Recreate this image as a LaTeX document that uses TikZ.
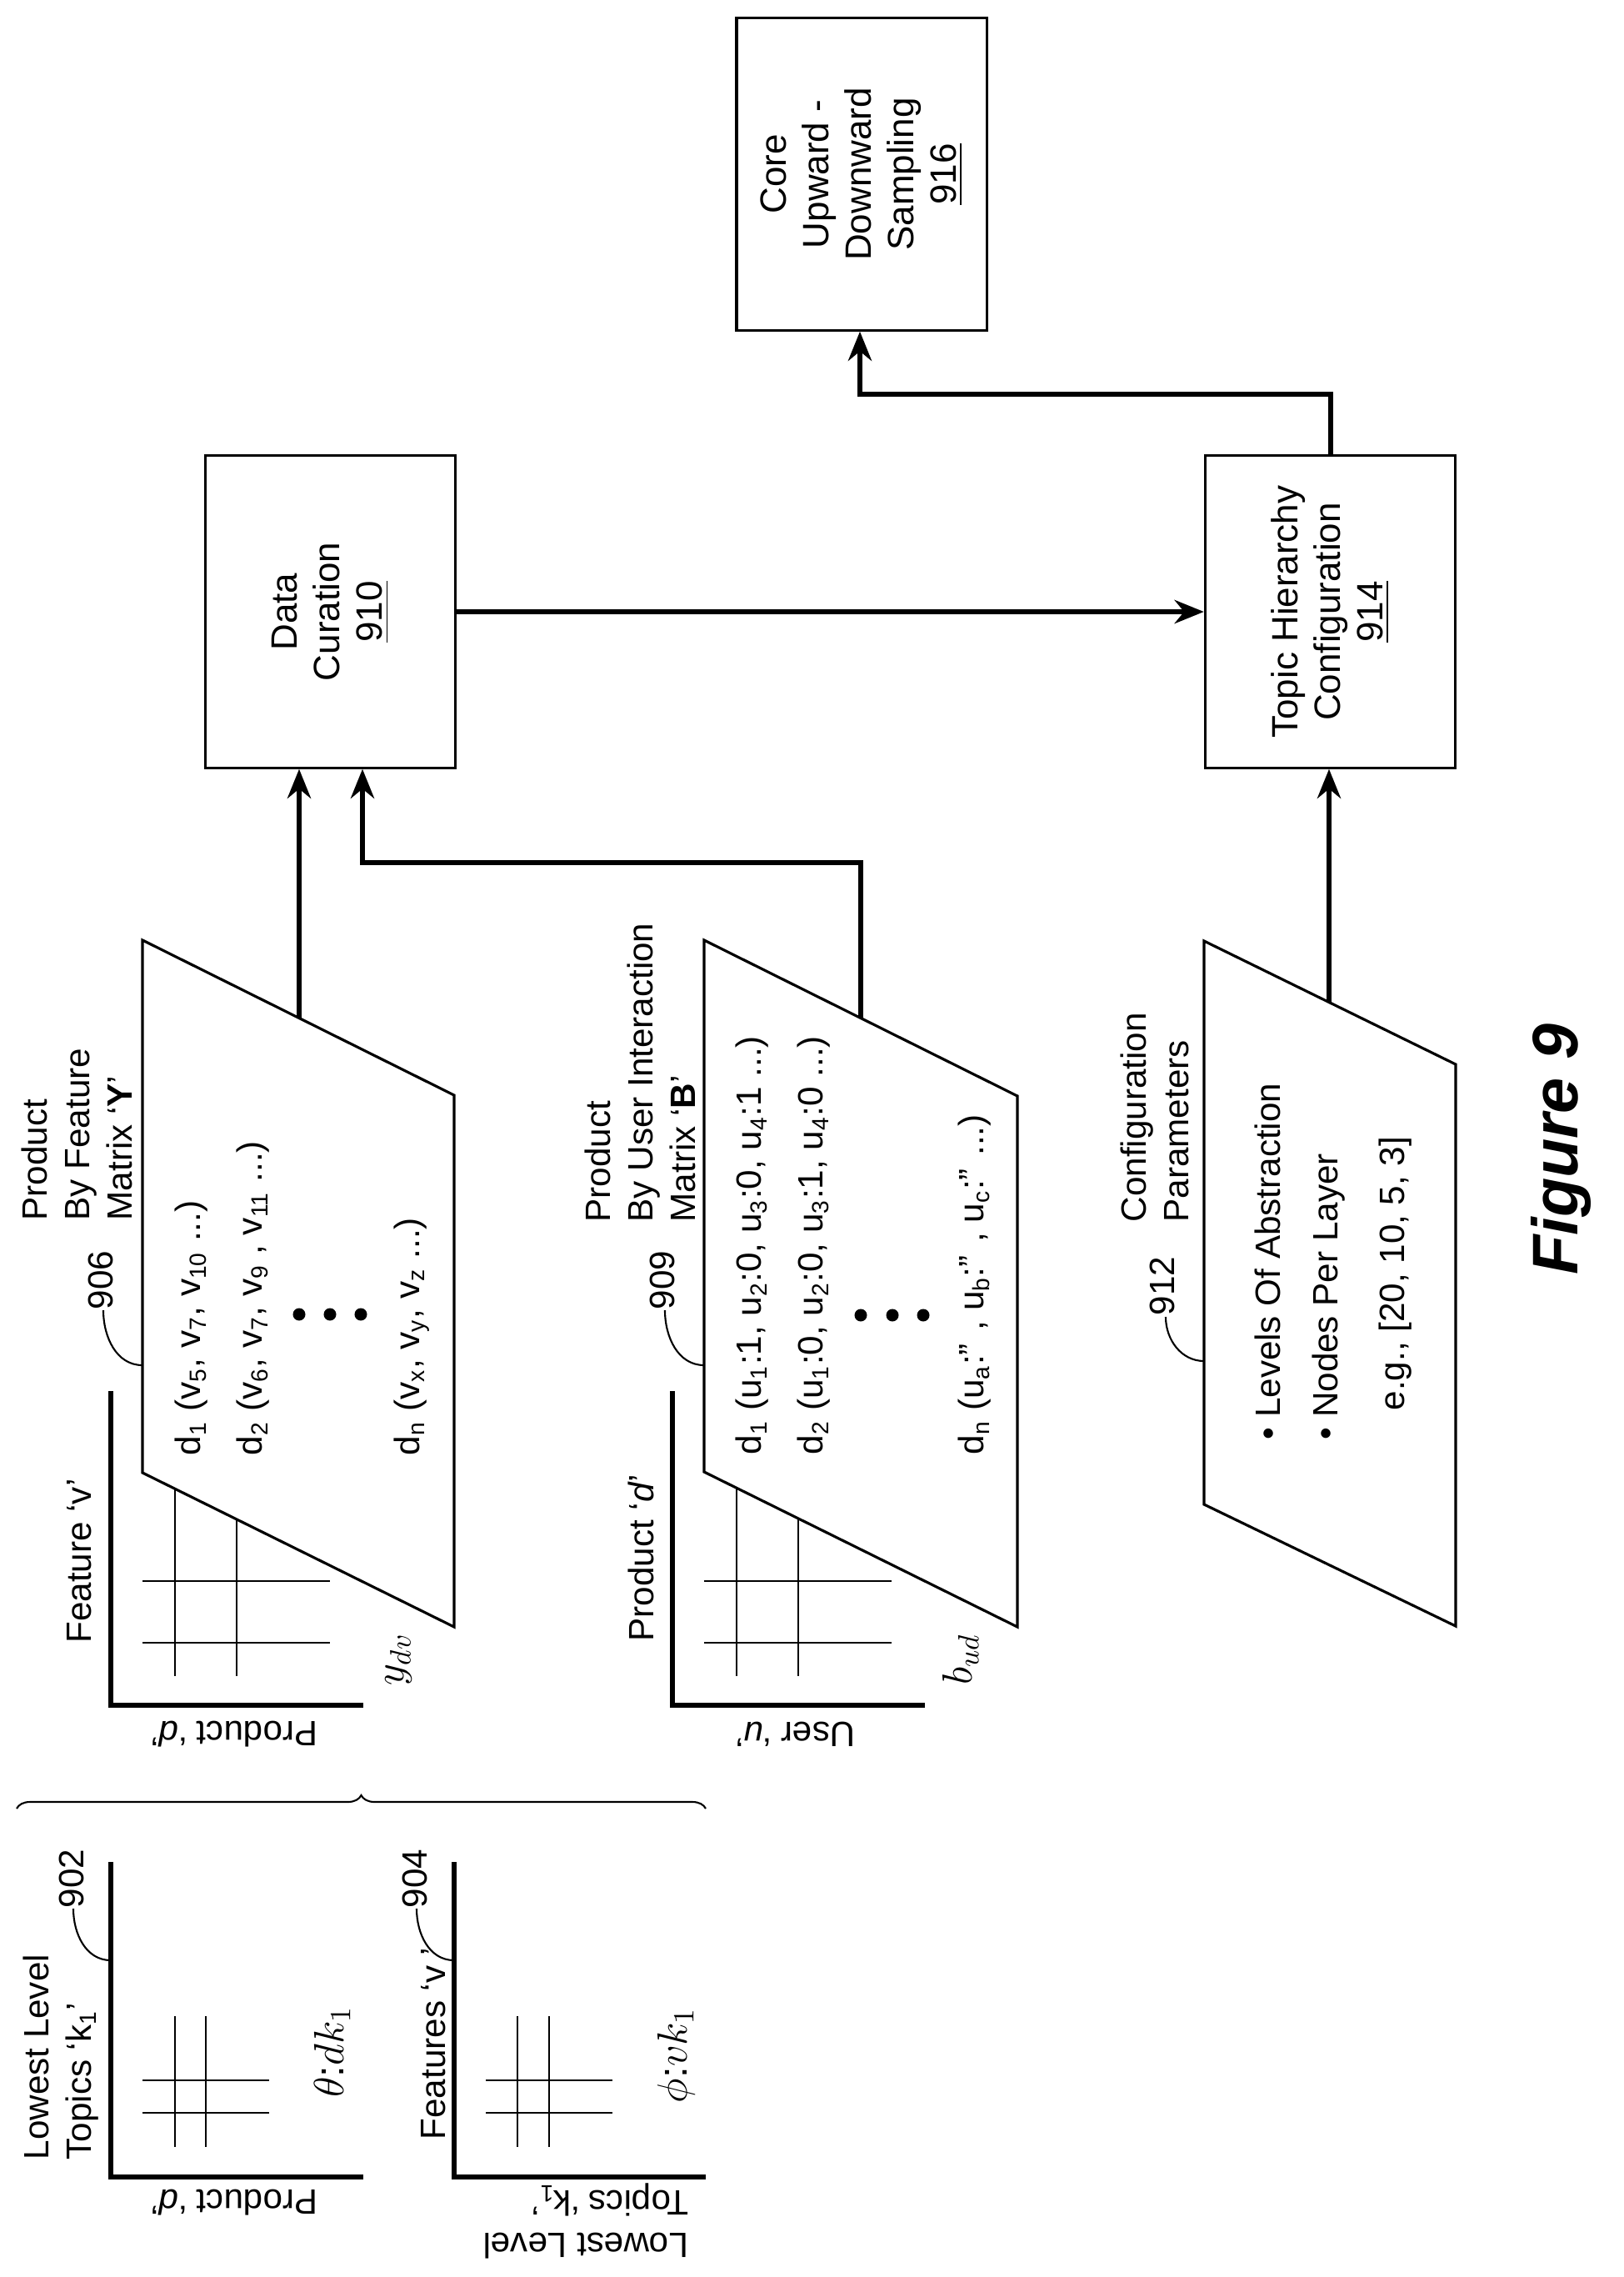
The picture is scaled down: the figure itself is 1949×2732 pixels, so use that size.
\documentclass[tikz,border=0pt]{standalone}
\usepackage{fontspec}
\setmainfont{Liberation Sans}
\usetikzlibrary{arrows.meta,decorations.pathreplacing}

\tikzset{
  txt/.style={rotate=90, inner sep=0pt, font=\fontsize{12}{14.5}\selectfont},
  upside/.style={rotate=180, inner sep=0pt, font=\fontsize{12}{14.5}\selectfont},
  step box/.style={draw, line width=0.9pt, rotate=90, minimum width=3.74cm,
    minimum height=3cm, align=center, font=\fontsize{12.5}{14.5}\selectfont},
  flow/.style={line width=1.7pt, -{Stealth[length=10pt,width=8pt]}},
  sheet/.style={draw, line width=0.9pt, fill=white},
  axis/.style={line width=1.5pt},
  grid line/.style={line width=0.6pt},
  leader/.style={line width=0.6pt},
  dot/.style={circle, fill, inner sep=0pt, minimum size=0.15cm},
  big/.style={font=\fontsize{14}{16}\selectfont}
}

\begin{document}
\begin{tikzpicture}[x=0.01cm, y=-0.01cm]
    \useasboundingbox (0,0) rectangle (1949,2732);

    % process boxes
    \node[step box] (n916) at (1034,209) {Core\\Upward -\\Downward\\Sampling\\\underline{916}};
    \node[step box] (n910) at (396.5,734) {Data\\Curation\\\underline{910}};
    \node[step box] (n914) at (1596.5,734) {Topic Hierarchy\\Configuration\\\underline{914}};

    % lowest level topic charts
    \draw[axis] (133,2234) |- (436,2612);
    \foreach \gx in {210,247} \draw[grid line] (\gx,2419) -- (\gx,2576);
    \foreach \gy in {2496,2535} \draw[grid line] (171,\gy) -- (323,\gy);
    \node[txt, align=left, anchor=west] (lbl902) at (73,2592) {Lowest Level\\Topics ‘k\textsubscript{1}’};
    \node[txt] (num902) at (86,2254) {902};
    \draw[leader] (133,2352) to[out=180,in=-90] (88,2290);
    \node[txt, big] (theta) at (399,2462) {$\theta$:$dk_1$};
    \node[upside] (ax902) at (281,2643) {Product ‘\textit{d}’};

    \draw[axis] (545,2234) |- (847,2612);
    \foreach \gx in {621,659} \draw[grid line] (\gx,2419) -- (\gx,2576);
    \foreach \gy in {2496,2535} \draw[grid line] (583,\gy) -- (735,\gy);
    \node[txt, anchor=west] (lbl904) at (520,2568) {Features ‘v ’};
    \node[txt] (num904) at (498,2254) {904};
    \draw[leader] (545,2352) to[out=180,in=-90] (500,2290);
    \node[txt, big] (phi) at (812,2466) {$\phi$:$vk_1$};
    \node[upside, align=left, anchor=west] (ax904) at (827,2665) {Lowest Level\\Topics ‘k\textsubscript{1}’};

    \draw[decorate, decoration={brace, amplitude=0.16cm}, line width=0.6pt] (20,2170) -- (847,2170);

    % product by feature matrix
    \draw[axis] (133,1669) |- (436,2046);
    \foreach \gx in {210,284} \draw[grid line] (\gx,1700) -- (\gx,2011);
    \foreach \gy in {1897,1971} \draw[grid line] (171,\gy) -- (396,\gy);
    \node[txt] (ax906v) at (95,1873) {Feature ‘v’};
    \node[txt, big] (ydv) at (479,1991) {$y_{dv}$};
    \node[upside] (ax906d) at (281,2081) {Product ‘\textit{d}’};
    \draw[sheet] (171,1128) -- (545,1314) -- (545,1952) -- (171,1767) -- cycle;
    \coordinate (t906) at (359,1221.5);
    \node[txt, align=left, anchor=west] (lbl906) at (92,1465) {Product\\By Feature\\Matrix ‘\textbf{Y}’};
    \node[txt] (num906) at (121,1536) {906};
    \draw[leader] (171,1638) to[out=180,in=-90] (124,1572);
    \node[txt, anchor=west] (d1y) at (230,1747) {d\textsubscript{1} (v\textsubscript{5}, v\textsubscript{7}, v\textsubscript{10} ...)};
    \node[txt, anchor=west] (d2y) at (304,1747) {d\textsubscript{2} (v\textsubscript{6}, v\textsubscript{7}, v\textsubscript{9} , v\textsubscript{11} ...)};
    \node[txt, anchor=west] (dny) at (494,1747) {d\textsubscript{n} (v\textsubscript{x}, v\textsubscript{y}, v\textsubscript{z} ...)};
    \foreach \dx in {359,396,433} \node[dot] at (\dx,1577) {};

    % product by user interaction matrix
    \draw[axis] (807,1669) |- (1110,2046);
    \foreach \gx in {884,958} \draw[grid line] (\gx,1700) -- (\gx,2011);
    \foreach \gy in {1897,1971} \draw[grid line] (845,\gy) -- (1070,\gy);
    \node[txt] (ax909d) at (769,1869) {Product ‘\textit{d}’};
    \node[txt, big] (bud) at (1153,1991) {$b_{ud}$};
    \node[upside] (ax909u) at (955,2081) {User ‘\textit{u}’};
    \draw[sheet] (845,1128) -- (1221,1315) -- (1221,1952) -- (845,1766) -- cycle;
    \coordinate (t909) at (1033,1221.5);
    \node[txt, align=left, anchor=west] (lbl909) at (768,1467) {Product\\By User Interaction\\Matrix ‘\textbf{B}’};
    \node[txt] (num909) at (795,1536) {909};
    \draw[leader] (845,1638) to[out=180,in=-90] (798,1572);
    \node[txt, anchor=west] (d1b) at (903,1746) {d\textsubscript{1} (u\textsubscript{1}:1, u\textsubscript{2}:0, u\textsubscript{3}:0, u\textsubscript{4}:1 ...)};
    \node[txt, anchor=west] (d2b) at (977,1746) {d\textsubscript{2} (u\textsubscript{1}:0, u\textsubscript{2}:0, u\textsubscript{3}:1, u\textsubscript{4}:0 ...)};
    \node[txt, anchor=west] (dnb) at (1170,1746) {d\textsubscript{n} (u\textsubscript{a}:'' , u\textsubscript{b}:'' , u\textsubscript{c}:'' ...)};
    \foreach \dx in {1033,1071,1108} \node[dot] at (\dx,1578) {};

    % configuration parameters
    \draw[sheet] (1445,1129) -- (1747,1277) -- (1747,1951) -- (1445,1805) -- cycle;
    \coordinate (t912) at (1595,1202.5);
    \node[txt, align=left, anchor=west] (lbl912) at (1386,1467) {Configuration\\Parameters};
    \node[txt] (num912) at (1395,1543) {912};
    \draw[leader] (1445,1633) to[out=180,in=-90] (1399,1580);
    \node[txt, anchor=west] (lvl) at (1521,1728) {\textbullet\ Levels Of Abstraction};
    \node[txt, anchor=west] (npl) at (1595,1728) {\textbullet\ Nodes Per Layer};
    \node[txt, anchor=west] (eg) at (1675,1693) {e.g., [20, 10, 5, 3]};

    % connectors
    \coordinate (j909) at (435,1035);
    \coordinate (j914) at (1032,473);
    \draw[flow] (t906) -- (t906 |- n910.west);
    \draw[flow] (t909) |- (j909) -- (j909 |- n910.west);
    \draw[flow] (t912) -- (t912 |- n914.west);
    \draw[flow] (n910) -- (n914);
    \draw[flow] (n914.east) |- (j914) -- (j914 |- n916.west);

    \node[rotate=90, font=\fontsize{22}{24}\selectfont\bfseries\itshape] (fig) at (1873,1379) {Figure 9};
\end{tikzpicture}
\end{document}
